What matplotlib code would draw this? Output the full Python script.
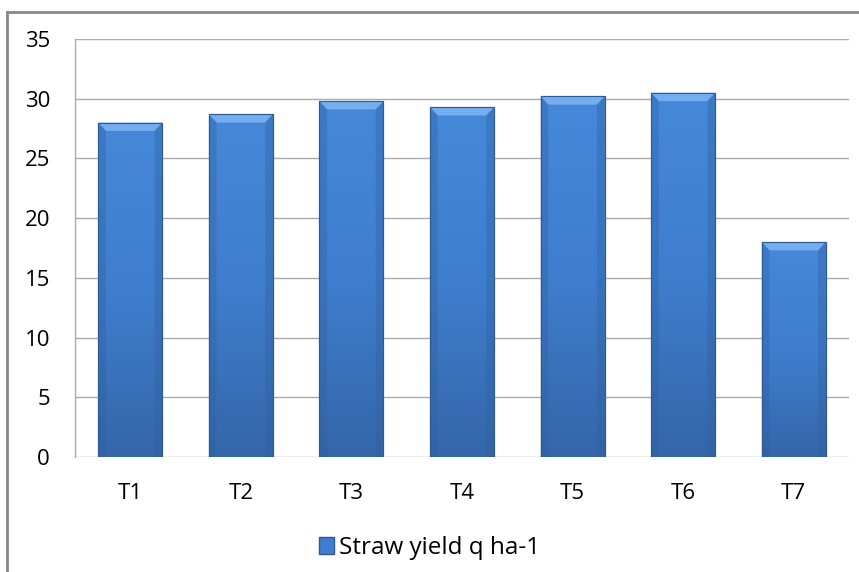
import numpy as np
import matplotlib.pyplot as plt
from matplotlib.patches import Rectangle, Polygon
from matplotlib.colors import LinearSegmentedColormap

plt.rcParams['font.family'] = ['Open Sans', 'DejaVu Sans']

treatments = ['T1', 'T2', 'T3', 'T4', 'T5', 'T6', 'T7']
straw_yield = [28.0, 28.7, 29.8, 29.3, 30.2, 30.5, 18.0]
series_name = 'Straw yield q ha-1'
y_ticks = [0, 5, 10, 15, 20, 25, 30, 35]

fig = plt.figure(figsize=(8.59, 5.72), dpi=100)
ax = fig.add_axes([75 / 859, 1 - 457 / 572, 774 / 859, 418 / 572])

# outer chart frame (only left and top edges fall inside the canvas)
fig.add_artist(plt.Line2D([7 / 859, 7 / 859], [0, 1 - 12 / 572],
                          transform=fig.transFigure, color='#888888', lw=2))
fig.add_artist(plt.Line2D([7 / 859, 1], [1 - 12 / 572, 1 - 12 / 572],
                          transform=fig.transFigure, color='#888888', lw=2))

x = np.arange(len(treatments))
width = 0.58
grad = LinearSegmentedColormap.from_list('bar', ['#3566A9', '#3F7ECE', '#4688D9'])
bevel = 0.7  # height of the lighter top face, in data units
inset = 0.07

bars = ax.bar(x, straw_yield, width=width, color='#3F7ECE',
              edgecolor='#2D5A96', linewidth=0.8, zorder=3)
for xi, val, b in zip(x, straw_yield, bars):
    g = np.linspace(0, 1, 100).reshape(-1, 1)
    im = ax.imshow(g, cmap=grad, aspect='auto', origin='lower',
                   extent=[xi - width / 2, xi + width / 2, 0, val], zorder=3.5)
    im.set_clip_path(b)
    top = Polygon([[xi - width / 2, val], [xi + width / 2, val],
                   [xi + width / 2 - inset, val - bevel],
                   [xi - width / 2 + inset, val - bevel]],
                  closed=True, facecolor='#74ADF0', edgecolor='none', zorder=4)
    ax.add_patch(top)
    for side in (-1, 1):
        xs = xi + side * width / 2
        ax.add_patch(Polygon([[xs, val], [xs - side * inset, val - bevel],
                              [xs - side * inset, 0], [xs, 0]],
                             closed=True, facecolor='#2F5E9E', alpha=0.35,
                             edgecolor='none', zorder=4))
    ax.add_patch(Rectangle((xi - width / 2, 0), width, val, fill=False,
                           edgecolor='#2D5A96', lw=0.8, zorder=5))

ax.set_xlim(-0.5, len(treatments) - 0.5)
ax.set_ylim(0, 35)
ax.set_yticks(y_ticks)
ax.set_yticklabels([str(t) for t in y_ticks])
ax.set_xticks(x)
ax.set_xticklabels(treatments)
ax.tick_params(axis='both', length=0, labelsize=16, colors='black')
ax.tick_params(axis='y', pad=18)
ax.tick_params(axis='x', pad=19)
ax.yaxis.grid(True, color='#ABABAB', linewidth=1.0, zorder=0)
ax.set_axisbelow(True)
for s in ('top', 'right', 'bottom'):
    ax.spines[s].set_visible(False)
ax.spines['left'].set_color('#ABABAB')
ax.spines['left'].set_linewidth(1.0)

handle = Rectangle((0, 0), 1, 1, facecolor='#3F7ECE', edgecolor='#2D5A96')
fig.legend([handle], [series_name], loc='center', bbox_to_anchor=(0.5, 1 - 548 / 572),
           frameon=False, fontsize=17.5, handlelength=0.65, handleheight=0.65,
           handletextpad=0.2)

fig.savefig('out.png', dpi=100)
